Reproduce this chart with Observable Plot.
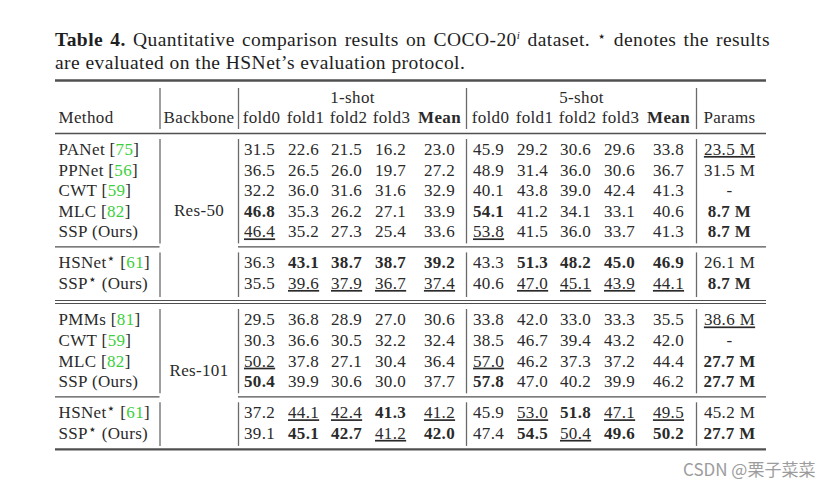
<!DOCTYPE html>
<html><head><meta charset="utf-8">
<script src="https://cdn.jsdelivr.net/npm/d3@7"></script>
<script src="https://cdn.jsdelivr.net/npm/@observablehq/plot@0.6"></script>
<style>
html,body{margin:0;padding:0;background:#fff;width:834px;height:489px;overflow:hidden;position:relative}
#title{position:absolute;left:55px;top:28px;width:715px;font-family:'Liberation Serif',serif;font-size:19.5px;letter-spacing:0.45px;line-height:23px;color:#1e1e1e}
#title .l1{text-align:justify;text-align-last:justify;white-space:nowrap}
#title sup{font-size:11px;line-height:0;vertical-align:7px}
#title sup.star{font-family:'DejaVu Sans',sans-serif;font-size:14px;vertical-align:5px}
#chart{position:absolute;left:0;top:74px}
#wm{position:absolute;left:683px;top:458px;font-family:'Noto Sans CJK SC','Noto Sans',sans-serif;font-size:17px;color:#9c9c9c;white-space:nowrap;line-height:22px}
</style></head><body>
<div id="title"><div class="l1"><b>Table 4.</b> Quantitative comparison results on COCO-20<sup><i>i</i></sup> dataset. <sup class="star">⋆</sup> denotes the results</div><div>are evaluated on the HSNet’s evaluation protocol.</div></div>
<div id="chart"></div>
<div id="wm">CSDN @栗子菜菜</div>
<script>
// ---------- data ----------
const methods = ["PANet","PPNet","CWT","MLC","SSP (Ours)","HSNet⋆","SSP⋆ (Ours)","PMMs","CWT","MLC","SSP (Ours)","HSNet⋆","SSP⋆ (Ours)"];
const refs = ["75","56","59","82","","61","","81","59","82","","61",""];
const section = [0,0,0,0,0,1,1,2,2,2,2,3,3];
const backbones = ["Res-50","Res-101"];
const backboneSections = [[0,1],[2,3]];
const shotLabels = ["1-shot","5-shot"];
const foldLabels = ["fold0","fold1","fold2","fold3","Mean"];
const headerLabels = ["Method","Backbone","Params"];
const oneShot = [
  [31.5,22.6,21.5,16.2,23.0],
  [36.5,26.5,26.0,19.7,27.2],
  [32.2,36.0,31.6,31.6,32.9],
  [46.8,35.3,26.2,27.1,33.9],
  [46.4,35.2,27.3,25.4,33.6],
  [36.3,43.1,38.7,38.7,39.2],
  [35.5,39.6,37.9,36.7,37.4],
  [29.5,36.8,28.9,27.0,30.6],
  [30.3,36.6,30.5,32.2,32.4],
  [50.2,37.8,27.1,30.4,36.4],
  [50.4,39.9,30.6,30.0,37.7],
  [37.2,44.1,42.4,41.3,41.2],
  [39.1,45.1,42.7,41.2,42.0]
];
const fiveShot = [
  [45.9,29.2,30.6,29.6,33.8],
  [48.9,31.4,36.0,30.6,36.7],
  [40.1,43.8,39.0,42.4,41.3],
  [54.1,41.2,34.1,33.1,40.6],
  [53.8,41.5,36.0,33.7,41.3],
  [43.3,51.3,48.2,45.0,46.9],
  [40.6,47.0,45.1,43.9,44.1],
  [33.8,42.0,33.0,33.3,35.5],
  [38.5,46.7,39.4,43.2,42.0],
  [57.0,46.2,37.3,37.2,44.4],
  [57.8,47.0,40.2,39.9,46.2],
  [45.9,53.0,51.8,47.1,49.5],
  [47.4,54.5,50.4,49.6,50.2]
];
const params = ["23.5 M","31.5 M","-","8.7 M","8.7 M","26.1 M","8.7 M","38.6 M","-","27.7 M","27.7 M","45.2 M","27.7 M"];
// b = bold (best), u = underlined (second best)
const oneShotStyle  = [".....",".....",".....","b....","u....",".bbbb",".uuuu",".....",".....","u....","b....",".uubu",".bbub"];
const fiveShotStyle = [".....",".....",".....","b....","u....",".bbbb",".uuuu",".....",".....","u....","b....",".ubuu",".bubb"];
const paramsStyle = "u..bb.bu.bb.b";

// ---------- layout ----------
const OFF = 74, W = 834, H = 489 - OFF;
const FONT = "Liberation Serif", FS = 17, INK = "#2a2a2a", RULE = "#505050";
const tableL = 55, tableR = 766;
const methodX = 58, backboneX = 198.5, paramsX = 729;
const vlines = [159.5, 238, 466, 696];
const foldLefts = [[241,285,328,372],[470,514,557,601]];
const foldCenters = [[261,305,348,391],[490,534,577,620]];
const meanCenters = [439, 668];
const shotCenters = [352, 581];
const yTopRule = 80, yHdr1 = 97, yHdr2 = 117, yHdrRule = 133, rowH = 20.6;

const rowY = [];
const hRules = [
  {y: yTopRule, x1: tableL, x2: tableR, w: 2.4},
  {y: yHdrRule, x1: tableL, x2: tableR, w: 1.3}
];
const vSegs = [];
vlines.forEach(x => vSegs.push({x, y1: yTopRule + 8, y2: yHdrRule - 4}));
let cursor = yHdrRule;
const nSec = d3.max(section) + 1;
for (let s = 0; s < nSec; s++) {
  const idx = d3.range(methods.length).filter(i => section[i] === s);
  const top = cursor;
  const first = top + (s > 0 && backboneSections.some(b => b[0] === s) ? 16.5 : 16);
  idx.forEach((r, k) => rowY[r] = first + k * rowH);
  const last = rowY[idx[idx.length - 1]];
  let bottom;
  if (s === nSec - 1) {
    bottom = last + 16;
    hRules.push({y: bottom, x1: tableL, x2: tableR, w: 2.4});
  } else if (backboneSections.some(b => b[b.length - 1] === s)) {
    bottom = last + 17;
    hRules.push({y: bottom, x1: tableL, x2: tableR, w: 1.1});
    hRules.push({y: bottom + 3, x1: tableL, x2: tableR, w: 1.1});
    cursor = bottom + 3;
  } else {
    bottom = last + 15;
    hRules.push({y: bottom, x1: tableL, x2: vlines[0], w: 1.3});
    hRules.push({y: bottom, x1: vlines[1], x2: tableR, w: 1.3});
    cursor = bottom;
  }
  vlines.forEach(x => vSegs.push({x, y1: top + 6, y2: bottom - 3}));
}

// ---------- cells ----------
const cells = [];
const add = (x, y, t, anchor, st) => cells.push({x, y, t, anchor, bold: st === "b", under: st === "u"});
shotLabels.forEach((l, k) => add(shotCenters[k], yHdr1, l, "middle", "."));
add(methodX, yHdr2, headerLabels[0], "start", ".");
add(backboneX, yHdr2, headerLabels[1], "middle", ".");
add(paramsX, yHdr2, headerLabels[2], "middle", ".");
[0, 1].forEach(k => foldLabels.forEach((l, j) =>
  add(j < 4 ? foldCenters[k][j] : meanCenters[k], yHdr2, l, "middle", j === 4 ? "b" : ".")));
methods.forEach((m, i) => {
  [[oneShot, oneShotStyle], [fiveShot, fiveShotStyle]].forEach(([vals, sty], k) => {
    vals[i].forEach((v, j) => {
      if (j < 4) add(foldLefts[k][j] + 2.5, rowY[i], v.toFixed(1), "start", sty[i][j]);
      else add(meanCenters[k], rowY[i], v.toFixed(1), "middle", sty[i][j]);
    });
  });
  add(paramsX, rowY[i], params[i], "middle", paramsStyle[i]);
});
backbones.forEach((b, k) => {
  const ys = d3.range(methods.length).filter(i => backboneSections[k].includes(section[i])).map(i => rowY[i]);
  add(backboneX, d3.mean(ys) - 4, b, "middle", ".");
});
const methodRows = methods.map((m, i) => ({x: methodX, y: rowY[i], t: m + (refs[i] ? " [" + refs[i] + "]" : "")}));

function textMarks(data) {
  const marks = [];
  for (const anchor of ["start", "middle"]) for (const bold of [false, true]) for (const under of [false, true]) {
    const sub = data.filter(d => d.anchor === anchor && d.bold === bold && d.under === under);
    if (!sub.length) continue;
    marks.push(Plot.text(sub, {x: "x", y: "y", text: "t", textAnchor: anchor,
      fontWeight: bold ? "bold" : "normal", fontSize: FS, fontFamily: FONT, fill: INK,
      ariaDescription: under ? "underline" : "cell"}));
  }
  return marks;
}

const chart = Plot.plot({
  width: W, height: H, margin: 0,
  x: {domain: [0, W], range: [0, W], axis: null},
  y: {domain: [OFF, OFF + H], range: [0, H], axis: null},
  style: {background: "white", overflow: "visible", letterSpacing: "0.35px"},
  marks: [
    Plot.ruleY(hRules, {y: "y", x1: "x1", x2: "x2", strokeWidth: "w", stroke: RULE}),
    Plot.ruleX(vSegs, {x: "x", y1: "y1", y2: "y2", stroke: "#6a6a6a", strokeWidth: 1.3}),
    ...textMarks(cells),
    Plot.text(methodRows, {x: "x", y: "y", text: "t", textAnchor: "start", fontSize: FS, fontFamily: FONT, fill: INK, ariaDescription: "method"})
  ]
});
document.getElementById("chart").appendChild(chart);

// underline second-best entries
d3.select(chart).selectAll('g[aria-description="underline"] text')
  .style("text-decoration", "underline").style("text-underline-offset", "2px");
// method labels: superscript star and green citation numbers
d3.select(chart).selectAll('g[aria-description="method"] text').each(function () {
  const s = this.textContent;
  const m = s.match(/^(.*?)(?: \[(\d+)\])?$/);
  const name = m[1], ref = m[2];
  const parts = name.split("⋆");
  const segs = [{t: parts[0]}];
  if (parts.length > 1) {
    segs.push({t: "⋆", dy: -5, size: 14, family: "DejaVu Sans"});
    segs.push({t: parts[1], dy: 5, keepDy: true});
  }
  if (ref) segs.push({t: " ["}, {t: ref, fill: "#3ccf3c"}, {t: "]"});
  // merge pending dy into first non-empty following segment
  const out = [];
  let pending = 0;
  for (const g of segs) {
    if (g.keepDy) { pending += g.dy; if (!g.t) continue; out.push({...g, dy: pending}); pending = 0; continue; }
    if (pending && !g.dy) { out.push({...g, dy: pending}); pending = 0; } else out.push(g);
  }
  const sel = d3.select(this);
  sel.text(null);
  out.forEach(g => {
    const ts = sel.append("tspan").text(g.t);
    if (g.dy) ts.attr("dy", g.dy);
    if (g.size) ts.attr("font-size", g.size);
    if (g.family) ts.attr("font-family", g.family);
    if (g.fill) ts.attr("fill", g.fill);
  });
});
</script></body></html>
